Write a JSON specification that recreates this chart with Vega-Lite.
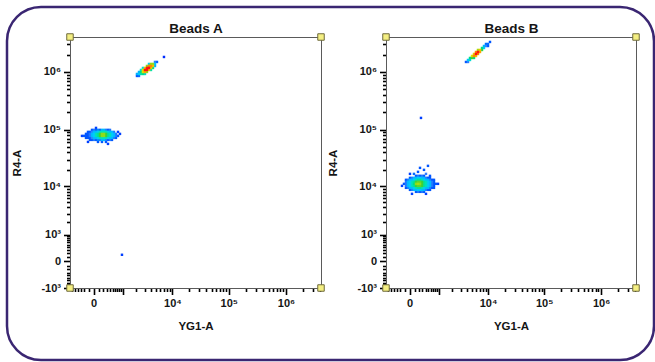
{
  "$schema": "https://vega.github.io/schema/vega-lite/v6.json",
  "width": 647,
  "height": 353,
  "autosize": {"type": "none"},
  "padding": {"left": 7, "top": 7, "right": 1, "bottom": 2},
  "background": "white",
  "view": {"stroke": "#3a2672", "strokeWidth": 2.5, "cornerRadius": 34, "fill": "white"},
  "datasets": {
    "pts": [
      {"p":"A","x":-31,"y":98950,"d":0.1},{"p":"A","x":5,"y":98950,"d":0.18},{"p":"A","x":43,"y":98950,"d":0.1},{"p":"A","x":83,"y":98950,"d":0.22},{"p":"A","x":127,"y":98950,"d":0.1},{"p":"A","x":174,"y":98950,"d":0.32},{"p":"A","x":226,"y":98950,"d":0.32},{"p":"A","x":281,"y":98950,"d":0.18},{"p":"A","x":342,"y":98950,"d":0.1},{"p":"A","x":407,"y":98950,"d":0.18},
      {"p":"A","x":-113,"y":91320,"d":0.1},{"p":"A","x":-71,"y":91320,"d":0.1},{"p":"A","x":-31,"y":91320,"d":0.2},{"p":"A","x":5,"y":91320,"d":0.32},{"p":"A","x":43,"y":91320,"d":0.32},{"p":"A","x":83,"y":91320,"d":0.36},{"p":"A","x":127,"y":91320,"d":0.48},{"p":"A","x":174,"y":91320,"d":0.48},{"p":"A","x":226,"y":91320,"d":0.48},{"p":"A","x":281,"y":91320,"d":0.48},{"p":"A","x":342,"y":91320,"d":0.36},{"p":"A","x":407,"y":91320,"d":0.32},{"p":"A","x":478,"y":91320,"d":0.32},{"p":"A","x":555,"y":91320,"d":0.18},
      {"p":"A","x":-159,"y":84320,"d":0.1},{"p":"A","x":-113,"y":84320,"d":0.1},{"p":"A","x":-71,"y":84320,"d":0.18},{"p":"A","x":-31,"y":84320,"d":0.32},{"p":"A","x":5,"y":84320,"d":0.36},{"p":"A","x":43,"y":84320,"d":0.48},{"p":"A","x":83,"y":84320,"d":0.52},{"p":"A","x":127,"y":84320,"d":0.62},{"p":"A","x":174,"y":84320,"d":0.68},{"p":"A","x":226,"y":84320,"d":0.68},{"p":"A","x":281,"y":84320,"d":0.62},{"p":"A","x":342,"y":84320,"d":0.52},{"p":"A","x":407,"y":84320,"d":0.48},{"p":"A","x":478,"y":84320,"d":0.36},{"p":"A","x":555,"y":84320,"d":0.32},{"p":"A","x":638,"y":84320,"d":0.18},
      {"p":"A","x":-210,"y":77800,"d":0.1},{"p":"A","x":-159,"y":77800,"d":0.1},{"p":"A","x":-113,"y":77800,"d":0.1},{"p":"A","x":-71,"y":77800,"d":0.18},{"p":"A","x":-31,"y":77800,"d":0.32},{"p":"A","x":5,"y":77800,"d":0.36},{"p":"A","x":43,"y":77800,"d":0.48},{"p":"A","x":83,"y":77800,"d":0.52},{"p":"A","x":127,"y":77800,"d":0.62},{"p":"A","x":174,"y":77800,"d":0.68},{"p":"A","x":226,"y":77800,"d":0.68},{"p":"A","x":281,"y":77800,"d":0.62},{"p":"A","x":342,"y":77800,"d":0.52},{"p":"A","x":407,"y":77800,"d":0.48},{"p":"A","x":478,"y":77800,"d":0.36},{"p":"A","x":555,"y":77800,"d":0.32},{"p":"A","x":638,"y":77800,"d":0.18},{"p":"A","x":729,"y":77800,"d":0.1},
      {"p":"A","x":-159,"y":71800,"d":0.1},{"p":"A","x":-113,"y":71800,"d":0.1},{"p":"A","x":-71,"y":71800,"d":0.1},{"p":"A","x":-31,"y":71800,"d":0.2},{"p":"A","x":5,"y":71800,"d":0.32},{"p":"A","x":43,"y":71800,"d":0.32},{"p":"A","x":83,"y":71800,"d":0.36},{"p":"A","x":127,"y":71800,"d":0.48},{"p":"A","x":174,"y":71800,"d":0.48},{"p":"A","x":226,"y":71800,"d":0.48},{"p":"A","x":281,"y":71800,"d":0.48},{"p":"A","x":342,"y":71800,"d":0.36},{"p":"A","x":407,"y":71800,"d":0.32},{"p":"A","x":478,"y":71800,"d":0.32},{"p":"A","x":555,"y":71800,"d":0.18},{"p":"A","x":638,"y":71800,"d":0.1},
      {"p":"A","x":-71,"y":66300,"d":0.1},{"p":"A","x":-31,"y":66300,"d":0.1},{"p":"A","x":5,"y":66300,"d":0.18},{"p":"A","x":43,"y":66300,"d":0.1},{"p":"A","x":83,"y":66300,"d":0.22},{"p":"A","x":127,"y":66300,"d":0.18},{"p":"A","x":174,"y":66300,"d":0.32},{"p":"A","x":226,"y":66300,"d":0.32},{"p":"A","x":281,"y":66300,"d":0.18},{"p":"A","x":342,"y":66300,"d":0.1},{"p":"A","x":407,"y":66300,"d":0.18},{"p":"A","x":478,"y":66300,"d":0.1},
      {"p":"A","x":83,"y":61160,"d":0.1},{"p":"A","x":174,"y":61160,"d":0.1},{"p":"A","x":281,"y":61160,"d":0.1},
      {"p":"A","x":-264,"y":77800,"d":0.05},{"p":"A","x":826,"y":84320,"d":0.05},{"p":"A","x":729,"y":91320,"d":0.05},{"p":"A","x":43,"y":107170,"d":0.05},{"p":"A","x":342,"y":56450,"d":0.05},{"p":"A","x":-113,"y":61160,"d":0.05},
      {"p":"A","x":3623,"y":1374000,"d":0.4},{"p":"A","x":3960,"y":1374000,"d":0.68},{"p":"A","x":4329,"y":1374000,"d":0.68},{"p":"A","x":4730,"y":1374000,"d":0.35},
      {"p":"A","x":3307,"y":1268000,"d":0.68},{"p":"A","x":3623,"y":1268000,"d":0.9},{"p":"A","x":3960,"y":1268000,"d":0.9},{"p":"A","x":4329,"y":1268000,"d":0.8},{"p":"A","x":4730,"y":1268000,"d":0.3},
      {"p":"A","x":2750,"y":1172000,"d":0.45},{"p":"A","x":3019,"y":1172000,"d":0.8},{"p":"A","x":3307,"y":1172000,"d":1},{"p":"A","x":3623,"y":1172000,"d":1},{"p":"A","x":3960,"y":1172000,"d":0.8},{"p":"A","x":4329,"y":1172000,"d":0.55},
      {"p":"A","x":2505,"y":1082000,"d":0.45},{"p":"A","x":2750,"y":1082000,"d":0.75},{"p":"A","x":3019,"y":1082000,"d":1},{"p":"A","x":3307,"y":1082000,"d":1},{"p":"A","x":3623,"y":1082000,"d":0.8},{"p":"A","x":3960,"y":1082000,"d":0.5},
      {"p":"A","x":2278,"y":999000,"d":0.3},{"p":"A","x":2505,"y":999000,"d":0.55},{"p":"A","x":2750,"y":999000,"d":0.75},{"p":"A","x":3019,"y":999000,"d":0.85},{"p":"A","x":3307,"y":999000,"d":0.68},
      {"p":"A","x":2278,"y":923000,"d":0.35},{"p":"A","x":2505,"y":923000,"d":0.5},{"p":"A","x":2750,"y":923000,"d":0.55},{"p":"A","x":3019,"y":923000,"d":0.45},
      {"p":"A","x":2067,"y":923000,"d":0.3},{"p":"A","x":2278,"y":852000,"d":0.15},{"p":"A","x":2067,"y":852000,"d":0.1},{"p":"A","x":5161,"y":1488000,"d":0.12},{"p":"A","x":4730,"y":1488000,"d":0.2},{"p":"A","x":6984,"y":1815000,"d":0.02},
      {"p":"A","x":932,"y":159,"d":0.05},
      {"p":"B","x":130,"y":15430,"d":0.1},{"p":"B","x":178,"y":15430,"d":0.18},{"p":"B","x":230,"y":15430,"d":0.1},{"p":"B","x":286,"y":15430,"d":0.18},{"p":"B","x":347,"y":15430,"d":0.1},
      {"p":"B","x":7,"y":14200,"d":0.1},{"p":"B","x":45,"y":14200,"d":0.18},{"p":"B","x":85,"y":14200,"d":0.32},{"p":"B","x":130,"y":14200,"d":0.32},{"p":"B","x":178,"y":14200,"d":0.36},{"p":"B","x":230,"y":14200,"d":0.36},{"p":"B","x":286,"y":14200,"d":0.32},{"p":"B","x":347,"y":14200,"d":0.32},{"p":"B","x":413,"y":14200,"d":0.18},{"p":"B","x":484,"y":14200,"d":0.1},{"p":"B","x":562,"y":14200,"d":0.1},
      {"p":"B","x":-69,"y":13090,"d":0.1},{"p":"B","x":-29,"y":13090,"d":0.18},{"p":"B","x":7,"y":13090,"d":0.32},{"p":"B","x":45,"y":13090,"d":0.32},{"p":"B","x":85,"y":13090,"d":0.36},{"p":"B","x":130,"y":13090,"d":0.48},{"p":"B","x":178,"y":13090,"d":0.52},{"p":"B","x":230,"y":13090,"d":0.52},{"p":"B","x":286,"y":13090,"d":0.48},{"p":"B","x":347,"y":13090,"d":0.36},{"p":"B","x":413,"y":13090,"d":0.32},{"p":"B","x":484,"y":13090,"d":0.32},{"p":"B","x":562,"y":13090,"d":0.18},{"p":"B","x":646,"y":13090,"d":0.1},{"p":"B","x":738,"y":13090,"d":0.1},
      {"p":"B","x":-69,"y":12040,"d":0.18},{"p":"B","x":-29,"y":12040,"d":0.32},{"p":"B","x":7,"y":12040,"d":0.36},{"p":"B","x":45,"y":12040,"d":0.48},{"p":"B","x":85,"y":12040,"d":0.52},{"p":"B","x":130,"y":12040,"d":0.62},{"p":"B","x":178,"y":12040,"d":0.64},{"p":"B","x":230,"y":12040,"d":0.64},{"p":"B","x":286,"y":12040,"d":0.62},{"p":"B","x":347,"y":12040,"d":0.52},{"p":"B","x":413,"y":12040,"d":0.48},{"p":"B","x":484,"y":12040,"d":0.36},{"p":"B","x":562,"y":12040,"d":0.32},{"p":"B","x":646,"y":12040,"d":0.18},{"p":"B","x":738,"y":12040,"d":0.1},
      {"p":"B","x":-112,"y":11080,"d":0.1},{"p":"B","x":-69,"y":11080,"d":0.18},{"p":"B","x":-29,"y":11080,"d":0.32},{"p":"B","x":7,"y":11080,"d":0.36},{"p":"B","x":45,"y":11080,"d":0.48},{"p":"B","x":85,"y":11080,"d":0.55},{"p":"B","x":130,"y":11080,"d":0.68},{"p":"B","x":178,"y":11080,"d":0.7},{"p":"B","x":230,"y":11080,"d":0.68},{"p":"B","x":286,"y":11080,"d":0.62},{"p":"B","x":347,"y":11080,"d":0.52},{"p":"B","x":413,"y":11080,"d":0.48},{"p":"B","x":484,"y":11080,"d":0.36},{"p":"B","x":562,"y":11080,"d":0.32},{"p":"B","x":646,"y":11080,"d":0.18},{"p":"B","x":738,"y":11080,"d":0.1},{"p":"B","x":837,"y":11080,"d":0.1},
      {"p":"B","x":-69,"y":10190,"d":0.18},{"p":"B","x":-29,"y":10190,"d":0.32},{"p":"B","x":7,"y":10190,"d":0.36},{"p":"B","x":45,"y":10190,"d":0.48},{"p":"B","x":85,"y":10190,"d":0.52},{"p":"B","x":130,"y":10190,"d":0.62},{"p":"B","x":178,"y":10190,"d":0.64},{"p":"B","x":230,"y":10190,"d":0.64},{"p":"B","x":286,"y":10190,"d":0.62},{"p":"B","x":347,"y":10190,"d":0.52},{"p":"B","x":413,"y":10190,"d":0.48},{"p":"B","x":484,"y":10190,"d":0.36},{"p":"B","x":562,"y":10190,"d":0.32},{"p":"B","x":646,"y":10190,"d":0.18},{"p":"B","x":738,"y":10190,"d":0.1},
      {"p":"B","x":-69,"y":9376,"d":0.1},{"p":"B","x":-29,"y":9376,"d":0.18},{"p":"B","x":7,"y":9376,"d":0.32},{"p":"B","x":45,"y":9376,"d":0.32},{"p":"B","x":85,"y":9376,"d":0.36},{"p":"B","x":130,"y":9376,"d":0.48},{"p":"B","x":178,"y":9376,"d":0.52},{"p":"B","x":230,"y":9376,"d":0.52},{"p":"B","x":286,"y":9376,"d":0.48},{"p":"B","x":347,"y":9376,"d":0.36},{"p":"B","x":413,"y":9376,"d":0.32},{"p":"B","x":484,"y":9376,"d":0.32},{"p":"B","x":562,"y":9376,"d":0.18},{"p":"B","x":646,"y":9376,"d":0.1},{"p":"B","x":738,"y":9376,"d":0.1},
      {"p":"B","x":7,"y":8613,"d":0.1},{"p":"B","x":45,"y":8613,"d":0.18},{"p":"B","x":85,"y":8613,"d":0.32},{"p":"B","x":130,"y":8613,"d":0.32},{"p":"B","x":178,"y":8613,"d":0.36},{"p":"B","x":230,"y":8613,"d":0.36},{"p":"B","x":286,"y":8613,"d":0.32},{"p":"B","x":347,"y":8613,"d":0.32},{"p":"B","x":413,"y":8613,"d":0.18},{"p":"B","x":484,"y":8613,"d":0.1},{"p":"B","x":562,"y":8613,"d":0.1},
      {"p":"B","x":130,"y":7918,"d":0.1},{"p":"B","x":178,"y":7918,"d":0.18},{"p":"B","x":230,"y":7918,"d":0.1},{"p":"B","x":286,"y":7918,"d":0.18},{"p":"B","x":347,"y":7918,"d":0.1},
      {"p":"B","x":178,"y":18180,"d":0.1},{"p":"B","x":347,"y":19740,"d":0.1},{"p":"B","x":484,"y":23240,"d":0.1},{"p":"B","x":413,"y":16740,"d":0.2},{"p":"B","x":85,"y":16740,"d":0.15},{"p":"B","x":562,"y":15430,"d":0.1},{"p":"B","x":-158,"y":10190,"d":0.05},{"p":"B","x":944,"y":11080,"d":0.05},{"p":"B","x":45,"y":7272,"d":0.05},{"p":"B","x":413,"y":7272,"d":0.05},{"p":"B","x":230,"y":21410,"d":0.1},{"p":"B","x":7,"y":16740,"d":0.05},
      {"p":"B","x":3845,"y":1488000,"d":0.1},{"p":"B","x":4206,"y":1488000,"d":0.2},{"p":"B","x":4206,"y":1611000,"d":0.35},{"p":"B","x":4594,"y":1611000,"d":0.45},{"p":"B","x":4594,"y":1745000,"d":0.55},{"p":"B","x":5020,"y":1745000,"d":0.62},{"p":"B","x":5020,"y":1889000,"d":0.75},{"p":"B","x":5478,"y":1745000,"d":0.55},{"p":"B","x":5478,"y":1889000,"d":0.9},{"p":"B","x":5478,"y":2046000,"d":0.8},{"p":"B","x":5975,"y":1889000,"d":0.8},{"p":"B","x":5975,"y":2046000,"d":1},{"p":"B","x":5975,"y":2214000,"d":0.9},{"p":"B","x":6512,"y":2046000,"d":0.9},{"p":"B","x":6512,"y":2214000,"d":1},{"p":"B","x":6512,"y":2398000,"d":0.7},{"p":"B","x":7097,"y":2214000,"d":0.85},{"p":"B","x":7097,"y":2398000,"d":0.8},{"p":"B","x":7735,"y":2398000,"d":0.6},{"p":"B","x":7735,"y":2596000,"d":0.55},{"p":"B","x":8417,"y":2596000,"d":0.35},{"p":"B","x":8417,"y":2810000,"d":0.3},{"p":"B","x":9161,"y":2810000,"d":0.2},{"p":"B","x":9161,"y":3045000,"d":0.15},{"p":"B","x":9975,"y":3045000,"d":0.15},{"p":"B","x":10850,"y":3300000,"d":0.1},{"p":"B","x":9975,"y":2810000,"d":0.1},
      {"p":"B","x":257,"y":159800,"d":0.05}
    ],
    "corners": [
      {"p":"A","x":-700,"y":-1000},{"p":"A","x":-700,"y":4020000},{"p":"A","x":4090000,"y":-1000},{"p":"A","x":4090000,"y":4020000},
      {"p":"B","x":-700,"y":-1000},{"p":"B","x":-700,"y":4020000},{"p":"B","x":4090000,"y":-1000},{"p":"B","x":4090000,"y":4020000}
    ]
  },
  "layer": [
    {
      "data": {"name": "corners"},
      "transform": [{"filter": "datum.p == 'A'"}],
      "mark": {"type": "square", "size": 1, "opacity": 0},
      "encoding": {
        "x": {"field": "x", "type": "quantitative",
          "scale": {"type": "symlog", "constant": 440, "domain": [-700, 4090000], "range": [63, 314], "nice": false, "zero": false},
          "axis": {"orient": "bottom", "offset": -72, "title": null, "labels": false, "domain": false, "tickSize": 3.5,
            "values": [-600,-500,-400,-300,-200,-100,100,200,300,400,500,600,700,800,900,2000,3000,4000,5000,6000,7000,8000,9000,20000,30000,40000,50000,60000,70000,80000,90000,200000,300000,400000,500000,600000,700000,800000,900000,2000000,3000000,4000000]}},
        "y": {"field": "y", "type": "quantitative",
          "scale": {"type": "symlog", "constant": 530, "domain": [-1000, 4020000], "range": [281, 30], "nice": false, "zero": false},
          "axis": {"orient": "left", "offset": -63, "title": null, "labels": false, "domain": false, "tickSize": 3.5,
            "values": [-900,-800,-700,-600,-500,-400,-300,-200,-100,100,200,300,400,500,600,700,800,900,2000,3000,4000,5000,6000,7000,8000,9000,20000,30000,40000,50000,60000,70000,80000,90000,200000,300000,400000,500000,600000,700000,800000,900000,2000000,3000000,4000000]}}
      }
    },
    {
      "data": {"name": "pts"},
      "transform": [{"filter": "datum.p == 'A'"}],
      "mark": {"type": "square", "size": 6, "opacity": 1},
      "encoding": {
        "x": {"field": "x", "type": "quantitative",
          "scale": {"type": "symlog", "constant": 440, "domain": [-700, 4090000], "range": [63, 314], "nice": false, "zero": false},
          "axis": {"orient": "bottom", "offset": -72, "title": "YG1-A", "titlePadding": 12, "tickSize": 6.5,
            "values": [0, 1000, 10000, 100000, 1000000],
            "labelExpr": "datum.value === 0 ? '0' : datum.value === 10000 ? '10⁴' : datum.value === 100000 ? '10⁵' : datum.value === 1000000 ? '10⁶' : ''"}},
        "y": {"field": "y", "type": "quantitative",
          "scale": {"type": "symlog", "constant": 530, "domain": [-1000, 4020000], "range": [281, 30], "nice": false, "zero": false},
          "axis": {"orient": "left", "offset": -63, "title": "R4-A", "titlePadding": 18, "tickSize": 6.5,
            "values": [-1000, 0, 1000, 10000, 100000, 1000000],
            "labelExpr": "datum.value === 0 ? '0' : datum.value === 1000 ? '10³' : datum.value === -1000 ? '-10³' : datum.value === 10000 ? '10⁴' : datum.value === 100000 ? '10⁵' : datum.value === 1000000 ? '10⁶' : ''"}},
        "color": {"field": "d", "type": "quantitative", "legend": null,
          "scale": {"domain": [0, 0.2, 0.35, 0.5, 0.62, 0.75, 0.88, 1], "range": ["#0a1cff", "#2f7dff", "#00c6ff", "#00e3b0", "#3ad13a", "#d8e400", "#ff9400", "#ff1010"]}},
        "order": {"field": "d", "type": "quantitative"}
      }
    },
    {
      "data": {"name": "corners"},
      "transform": [{"filter": "datum.p == 'A'"}],
      "mark": {"type": "square", "size": 42, "fill": "#f4ef82", "stroke": "#6e6a3c", "strokeWidth": 1, "opacity": 1},
      "encoding": {
        "x": {"field": "x", "type": "quantitative",
          "scale": {"type": "symlog", "constant": 440, "domain": [-700, 4090000], "range": [63, 314], "nice": false, "zero": false},
          "axis": {"orient": "top", "offset": -30, "title": "Beads A", "titleFontSize": 13.5, "titlePadding": 2, "labels": false, "ticks": false}},
        "y": {"field": "y", "type": "quantitative",
          "scale": {"type": "symlog", "constant": 530, "domain": [-1000, 4020000], "range": [281, 30], "nice": false, "zero": false},
          "axis": {"orient": "right", "offset": -333, "title": null, "labels": false, "ticks": false}}
      }
    },
    {
      "data": {"name": "corners"},
      "transform": [{"filter": "datum.p == 'B'"}],
      "mark": {"type": "square", "size": 1, "opacity": 0},
      "encoding": {
        "x": {"field": "x", "type": "quantitative",
          "scale": {"type": "symlog", "constant": 440, "domain": [-700, 4090000], "range": [379, 629], "nice": false, "zero": false},
          "axis": {"orient": "bottom", "offset": -72, "title": null, "labels": false, "domain": false, "tickSize": 3.5,
            "values": [-600,-500,-400,-300,-200,-100,100,200,300,400,500,600,700,800,900,2000,3000,4000,5000,6000,7000,8000,9000,20000,30000,40000,50000,60000,70000,80000,90000,200000,300000,400000,500000,600000,700000,800000,900000,2000000,3000000,4000000]}},
        "y": {"field": "y", "type": "quantitative",
          "scale": {"type": "symlog", "constant": 530, "domain": [-1000, 4020000], "range": [281, 30], "nice": false, "zero": false},
          "axis": {"orient": "left", "offset": -379, "title": null, "labels": false, "domain": false, "tickSize": 3.5,
            "values": [-900,-800,-700,-600,-500,-400,-300,-200,-100,100,200,300,400,500,600,700,800,900,2000,3000,4000,5000,6000,7000,8000,9000,20000,30000,40000,50000,60000,70000,80000,90000,200000,300000,400000,500000,600000,700000,800000,900000,2000000,3000000,4000000]}}
      }
    },
    {
      "data": {"name": "pts"},
      "transform": [{"filter": "datum.p == 'B'"}],
      "mark": {"type": "square", "size": 6, "opacity": 1},
      "encoding": {
        "x": {"field": "x", "type": "quantitative",
          "scale": {"type": "symlog", "constant": 440, "domain": [-700, 4090000], "range": [379, 629], "nice": false, "zero": false},
          "axis": {"orient": "bottom", "offset": -72, "title": "YG1-A", "titlePadding": 12, "tickSize": 6.5,
            "values": [0, 1000, 10000, 100000, 1000000],
            "labelExpr": "datum.value === 0 ? '0' : datum.value === 10000 ? '10⁴' : datum.value === 100000 ? '10⁵' : datum.value === 1000000 ? '10⁶' : ''"}},
        "y": {"field": "y", "type": "quantitative",
          "scale": {"type": "symlog", "constant": 530, "domain": [-1000, 4020000], "range": [281, 30], "nice": false, "zero": false},
          "axis": {"orient": "left", "offset": -379, "title": "R4-A", "titlePadding": 18, "tickSize": 6.5,
            "values": [-1000, 0, 1000, 10000, 100000, 1000000],
            "labelExpr": "datum.value === 0 ? '0' : datum.value === 1000 ? '10³' : datum.value === -1000 ? '-10³' : datum.value === 10000 ? '10⁴' : datum.value === 100000 ? '10⁵' : datum.value === 1000000 ? '10⁶' : ''"}},
        "color": {"field": "d", "type": "quantitative", "legend": null,
          "scale": {"domain": [0, 0.2, 0.35, 0.5, 0.62, 0.75, 0.88, 1], "range": ["#0a1cff", "#2f7dff", "#00c6ff", "#00e3b0", "#3ad13a", "#d8e400", "#ff9400", "#ff1010"]}},
        "order": {"field": "d", "type": "quantitative"}
      }
    },
    {
      "data": {"name": "corners"},
      "transform": [{"filter": "datum.p == 'B'"}],
      "mark": {"type": "square", "size": 42, "fill": "#f4ef82", "stroke": "#6e6a3c", "strokeWidth": 1, "opacity": 1},
      "encoding": {
        "x": {"field": "x", "type": "quantitative",
          "scale": {"type": "symlog", "constant": 440, "domain": [-700, 4090000], "range": [379, 629], "nice": false, "zero": false},
          "axis": {"orient": "top", "offset": -30, "title": "Beads B", "titleFontSize": 13.5, "titlePadding": 2, "labels": false, "ticks": false}},
        "y": {"field": "y", "type": "quantitative",
          "scale": {"type": "symlog", "constant": 530, "domain": [-1000, 4020000], "range": [281, 30], "nice": false, "zero": false},
          "axis": {"orient": "right", "offset": -18, "title": null, "labels": false, "ticks": false}}
      }
    }
  ],
  "resolve": {"scale": {"x": "independent", "y": "independent"}, "axis": {"x": "independent", "y": "independent"}},
  "config": {
    "axis": {
      "grid": false,
      "domainColor": "#5a5a5a",
      "domainWidth": 1,
      "tickColor": "#000000",
      "tickWidth": 1.6,
      "labelFont": "Liberation Sans, DejaVu Sans",
      "labelFontSize": 11,
      "labelFontWeight": "bold",
      "labelColor": "#151515",
      "labelPadding": 3,
      "labelFlush": false,
      "labelOverlap": false,
      "titleFont": "Liberation Sans, DejaVu Sans",
      "titleFontSize": 11.5,
      "titleFontWeight": "bold",
      "titleColor": "#151515"
    }
  }
}
